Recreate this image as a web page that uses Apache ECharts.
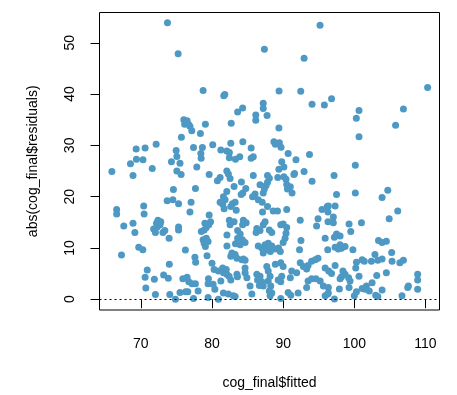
<!DOCTYPE html>
<html><head><meta charset="utf-8">
<script src="https://cdn.jsdelivr.net/npm/echarts@6/dist/echarts.min.js"></script>
<style>html,body{margin:0;padding:0;background:#fff}#c{width:457px;height:395px}</style>
</head><body><div id="c"></div>
<script>
const xTicks = [70, 80, 90, 100, 110];
const yTicks = [0, 10, 20, 30, 40, 50];
const xTitle = 'cog_final$fitted';
const yTitle = 'abs(cog_final$residuals)';
const fitted = [
73.74,75.24,78.75,95.18,87.36,92.94,81.8,81.65,89.42,92.47,94.06,95.79,96.8,87.2,87.2,84.3,83.6,86.15,86.15,87.74,82.7,
100.66,106.9,110.3,
100.28,105.8,100.66,100.14,97.15,97.5,100.14,104.7,103.9,96.35,97.3,106.1,96.3,
65.93,66.6,68.54,68.9,69.34,69.38,70.6,70.3,72.15,71.6,70.4,
76.04,76.5,76.16,76.7,76.9,77.16,79.07,78.37,75.7,74.96,75.06,74.3,75.5,75.06,75.66,77.4,78.65,78.43,78.47,77.86,80.1,79.6,74.58,77.67,73.7,74.5,75.3,77.06,76.9,
89.4,82.64,84.33,81.24,82.08,82.44,82.44,83.3,83.9,85.5,85.8,85.5,88.7,88.9,89.47,89.7,90.7,93.7,91.8,89.8,90.1,89.4,92.94,91.6,91.5,89.24,90.1,90.4,94.06,90.5,91.0,90.6,91.25,
82.08,82.3,82.54,81.14,80.76,84.13,83.1,84.75,84.33,84.1,82.08,85.8,86.75,87.8,88.06,87.8,87.6,87.36,87.2,86.05,85.7,86.5,87.06,87.8,
81.6,81.14,81.84,81.5,81.7,82.87,83.25,82.64,83.4,88.6,89.2,90.5,87.1,95.46,96.2,
66.6,70.46,67.6,68.9,69.16,67.28,69.7,70.28,72.4,72.8,72.2,72.7,72.3,71.8,72.05,73.1,73.37,73.97,75.3,75.3,76.26,74.0,70.9,70.6,71.9,73.2,73.86,70.7,72.05,74.07,74.86,75.5,76.3,76.6,77.4,78.05,79.45,75.9,76.5,76.74,77.2,77.67,79.5,79.45,80.15,77.6,77.7,79.3,80.0,78.5,78.9,79.2,79.55,79.0,79.8,79.6,78.75,79.2,78.9,79.45,79.07,
82.44,83.1,82.54,84.4,84.8,84.3,86.3,86.75,86.2,87.2,87.46,88.06,88.4,89.66,90.0,90.5,90.4,90.27,90.0,92.4,94.9,94.7,92.5,83.6,83.96,83.6,84.27,83.3,83.96,84.65,82.1,82.1,
86.5,87.0,87.46,87.9,88.4,87.7,87.2,88.2,88.9,89.35,89.6,92.3,
82.8,83.25,82.64,83.5,84.2,84.65,84.4,
80.3,80.9,81.5,82.0,81.6,82.08,82.4,82.64,83.5,83.57,84.65,84.65,84.9,81.24,80.4,81.6,82.3,83.0,83.25,80.9,85.35,85.6,
86.3,86.75,86.4,87.0,86.65,87.2,
87.7,87.9,88.16,87.9,88.26,88.06,88.4,88.16,
88.9,89.66,90.0,89.8,89.3,89.66,89.66,90.7,91.07,92.1,91.2,91.9,91.0,
92.4,92.84,93.3,93.5,94.0,94.5,94.9,93.5,94.0,94.6,93.3,95.2,95.65,96.35,95.9,
104.9,97.05,96.3,97.05,99.26,101.0,99.5,97.5,97.2,98.0,95.9,97.3,98.0,98.2,98.7,97.75,96.26,99.8,103.4,103.9,104.5,105.25,102.9,101.1,101.4,102.4,103.3,103.9,105.3,106.4,106.9,100.3,100.2,97.3,95.9,96.4,96.8,98.4,98.7,98.2,98.0,99.2,99.4,100.66,103.15,104.5,102.5,101.7,101.1,101.5,102.1,99.26,97.9,96.35,96.26,100.3,100.0,97.2,103.0,103.3,103.9,106.7,107.5,107.6,108.9,108.9,108.9
];
const absResid = [
53.9,47.85,40.7,53.4,48.75,46.96,39.9,39.65,40.6,40.55,38.0,37.85,39.1,38.2,37.2,37.3,36.5,35.9,34.9,35.8,34.3,
36.8,37.1,41.3,
35.3,33.9,31.7,26.1,24.1,20.4,20.7,21.25,19.85,18.2,18.2,17.2,17.0,
24.9,17.5,26.4,24.1,29.3,27.3,29.5,27.2,30.2,25.5,18.2,
35.0,34.8,34.1,34.1,33.7,32.85,34.1,32.3,31.6,29.0,27.85,26.8,26.5,25.0,24.3,29.6,29.6,28.4,27.5,25.8,30.1,24.3,21.4,21.6,19.2,19.4,18.6,18.9,17.0,
33.4,30.4,30.7,29.1,28.9,28.6,27.6,27.3,27.8,29.5,27.8,27.5,30.7,30.2,30.5,29.65,28.4,28.2,27.2,26.8,25.8,25.35,24.9,24.5,24.3,23.75,23.9,23.4,23.0,22.35,21.95,21.5,20.7,
25.0,24.4,23.55,23.75,23.1,22.85,22.0,21.6,20.7,20.4,21.0,24.1,22.3,24.1,23.6,22.8,22.15,21.5,20.7,20.5,20.0,19.4,18.9,18.1,
20.0,18.9,19.4,18.5,17.65,18.6,18.9,18.1,17.35,17.2,17.2,17.5,17.0,17.5,18.1,
16.6,16.6,14.3,14.8,13.0,8.6,10.15,9.65,15.4,15.1,14.8,14.5,14.1,13.7,13.0,13.0,13.4,11.9,14.1,13.5,9.6,6.8,5.7,4.3,3.9,4.7,4.1,2.2,0.9,0.9,0.0,1.3,1.45,1.45,0.15,1.6,0.35,4.0,4.3,3.4,3.0,3.0,4.0,3.0,2.9,8.2,7.2,8.5,7.0,13.2,13.5,14.0,14.5,14.8,15.1,16.4,11.6,11.9,10.9,11.25,10.3,
15.4,15.1,14.5,15.4,14.9,14.5,13.8,13.4,13.0,14.5,15.1,13.5,13.0,14.5,14.65,14.0,12.85,11.9,11.05,15.4,15.7,14.3,11.45,13.4,12.7,11.9,11.6,10.8,10.6,11.05,12.5,10.4,
10.4,10.0,10.6,10.9,10.4,9.65,9.0,9.3,9.8,10.0,9.3,9.65,
9.0,8.7,8.4,8.0,7.7,7.6,7.85,
5.8,5.5,6.1,5.8,5.15,4.85,4.5,3.75,4.85,4.4,6.1,5.15,4.2,3.55,1.95,1.2,1.0,0.7,0.55,0.0,2.6,1.0,
4.85,4.5,3.75,3.4,2.7,2.6,
6.4,5.5,4.5,3.55,2.6,1.6,1.2,0.7,
6.8,7.1,6.4,4.5,3.75,3.4,0.15,1.3,0.8,1.2,5.5,5.15,4.2,
7.1,6.4,5.9,6.6,7.4,7.7,8.0,3.55,4.0,4.0,2.3,3.55,2.6,1.2,0.7,
15.7,16.05,15.1,14.9,14.65,14.9,13.2,12.7,12.1,12.35,11.9,10.15,10.6,9.95,10.3,9.8,9.65,9.65,11.45,11.05,11.3,9.1,8.7,7.7,7.4,7.4,7.6,7.85,7.4,7.1,7.6,7.2,6.1,6.6,6.1,5.5,5.0,5.5,4.85,4.4,4.0,4.2,3.55,4.5,4.65,5.15,3.2,2.6,2.1,1.95,1.6,2.3,2.0,2.3,1.0,1.45,0.7,0.05,0.8,0.55,1.8,0.7,2.3,2.6,4.85,3.75,1.95
];
const pts = fitted.map((x, i) => [x, absResid[i]]);
const FONT = "'Liberation Sans', Arial, sans-serif";
const chart = echarts.init(document.getElementById('c'), null, {renderer: 'canvas'});
chart.setOption({
  animation: false,
  grid: {left: 99.5, right: 17.5, top: 12.5, bottom: 80, show: true, borderColor: '#000', borderWidth: 1, backgroundColor: 'transparent'},
  xAxis: {
    type: 'value', min: 64.19, max: 111.97,
    name: xTitle, nameLocation: 'middle', nameGap: 66,
    nameTextStyle: {fontFamily: FONT, fontSize: 14, color: '#000'},
    axisLine: {show: false},
    axisTick: {show: true, inside: false, length: 9, customValues: xTicks, lineStyle: {color: '#000', width: 1}},
    axisLabel: {show: true, customValues: xTicks, margin: 27, fontFamily: FONT, fontSize: 14, color: '#000'},
    splitLine: {show: false}
  },
  yAxis: {
    type: 'value', min: -2.1, max: 55.9,
    name: yTitle, nameLocation: 'middle', nameGap: 59, nameRotate: 90,
    nameTextStyle: {fontFamily: FONT, fontSize: 14, color: '#000'},
    axisLine: {show: false},
    axisTick: {show: true, inside: false, length: 9, customValues: yTicks, lineStyle: {color: '#000', width: 1}},
    axisLabel: {show: true, customValues: yTicks, rotate: 90, margin: 22, fontFamily: FONT, fontSize: 14, color: '#000'},
    splitLine: {show: false}
  },
  series: [{
    type: 'scatter',
    data: pts,
    symbol: 'circle',
    symbolSize: 7,
    itemStyle: {color: '#4d99c4', opacity: 1},
    markLine: {
      silent: true, symbol: 'none', animation: false,
      label: {show: false},
      lineStyle: {color: '#000', width: 1, type: [2, 3]},
      data: [{yAxis: 0}]
    }
  }]
});
</script></body></html>
